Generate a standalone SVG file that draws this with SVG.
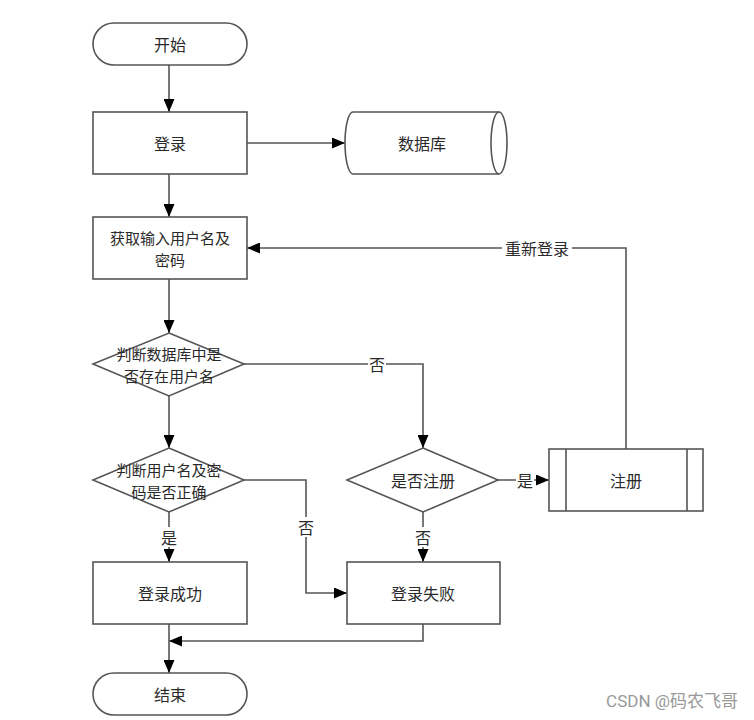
<svg xmlns="http://www.w3.org/2000/svg" width="754" height="720" viewBox="0 0 754 720">
<style>
.shape{fill:#fff;stroke:#555;stroke-width:1.6}
.t{font-family:"Noto Sans CJK SC","Liberation Sans",sans-serif;font-size:16px;fill:#2a2a2a;text-anchor:middle;dominant-baseline:central}
.t2{font-size:15px}
.c{fill:none;stroke:#555;stroke-width:1.6;marker-end:url(#arr)}
.cn{fill:none;stroke:#555;stroke-width:1.6}
.lb{fill:#fff}
.wm{font-family:"Roboto","Noto Sans CJK SC",sans-serif;font-size:17px;fill:#999;text-anchor:end;dominant-baseline:central}
</style>
<defs>
<marker id="arr" markerUnits="userSpaceOnUse" markerWidth="13" markerHeight="11" refX="13" refY="5.5" orient="auto">
<path d="M0,0 L13,5.5 L0,11 z" fill="#000"/>
</marker>
</defs>
<rect width="754" height="720" fill="#fff"/>
<g id="connectors">
<path class="c" d="M169,65 V112"/>
<path class="c" d="M247,143 H345"/>
<path class="c" d="M169,174 V217"/>
<path class="c" d="M169,279 V333"/>
<path class="c" d="M244,364 H423 V448"/>
<path class="c" d="M169,396 V448"/>
<path class="c" d="M169,512 V562"/>
<path class="c" d="M244,480 H306 V593 H347"/>
<path class="c" d="M498,480 H549"/>
<path class="c" d="M423,512 V562"/>
<path class="c" d="M626,449 V248 H247"/>
<path class="c" d="M423,624 V641 H169"/>
<path class="c" d="M169,624 V673"/>
<rect class="lb" x="368" y="354" width="18" height="20"/>
<text class="t" x="377" y="364">否</text>
<rect class="lb" x="160" y="527" width="18" height="20"/>
<text class="t" x="169" y="537">是</text>
<rect class="lb" x="297" y="517" width="18" height="20"/>
<text class="t" x="306" y="527">否</text>
<rect class="lb" x="516" y="470" width="18" height="20"/>
<text class="t" x="525" y="480">是</text>
<rect class="lb" x="414" y="527" width="18" height="20"/>
<text class="t" x="423" y="537">否</text>
<rect class="lb" x="502" y="238" width="70" height="20"/>
<text class="t" x="537" y="248">重新登录</text>
</g>
<g id="start">
<rect class="shape" x="93" y="23" width="154" height="42" rx="21"/>
<text class="t" x="170" y="44">开始</text>
</g>
<g id="login">
<rect class="shape" x="93" y="112" width="154" height="62"/>
<text class="t" x="170" y="143">登录</text>
</g>
<g id="database">
<path class="shape" d="M353,112 H499 A8,31 0 0 1 499,174 H353 A8,31 0 0 1 353,112 z"/>
<path class="cn" d="M499,112 A8,31 0 0 0 499,174"/>
<text class="t" x="422" y="143">数据库</text>
</g>
<g id="input">
<rect class="shape" x="93" y="217" width="154" height="62"/>
<text class="t t2" x="170" y="237">获取输入用户名及</text>
<text class="t t2" x="170" y="259">密码</text>
</g>
<g id="check-user">
<polygon class="shape" points="169,333 244,364 169,396 93,364"/>
<text class="t t2" x="169" y="353">判断数据库中是</text>
<text class="t t2" x="169" y="375">否存在用户名</text>
</g>
<g id="check-pwd">
<polygon class="shape" points="169,448 244,480 169,512 93,480"/>
<text class="t t2" x="169" y="469">判断用户名及密</text>
<text class="t t2" x="169" y="491">码是否正确</text>
</g>
<g id="registered">
<polygon class="shape" points="423,448 498,480 423,512 347,480"/>
<text class="t" x="423" y="480">是否注册</text>
</g>
<g id="register">
<rect class="shape" x="549" y="449" width="154" height="62"/>
<line class="cn" x1="566" y1="449" x2="566" y2="511"/>
<line class="cn" x1="687" y1="449" x2="687" y2="511"/>
<text class="t" x="626" y="480">注册</text>
</g>
<g id="success">
<rect class="shape" x="93" y="562" width="154" height="62"/>
<text class="t" x="170" y="593">登录成功</text>
</g>
<g id="fail">
<rect class="shape" x="347" y="562" width="153" height="62"/>
<text class="t" x="423" y="593">登录失败</text>
</g>
<g id="end">
<rect class="shape" x="93" y="673" width="154" height="42" rx="21"/>
<text class="t" x="170" y="694">结束</text>
</g>
<text class="wm" x="738" y="701">CSDN @码农飞哥</text>
</svg>
